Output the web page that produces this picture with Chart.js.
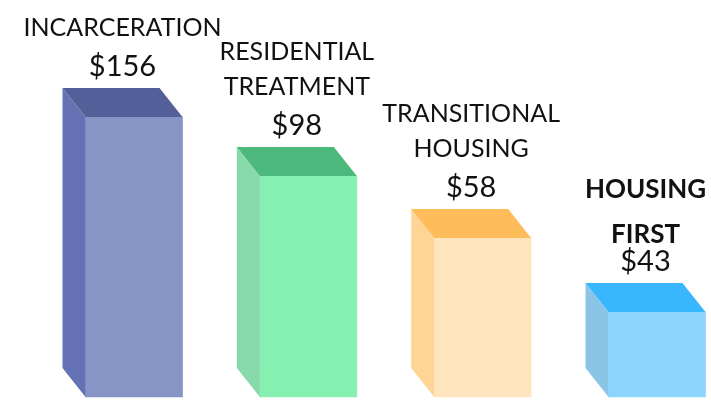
<!DOCTYPE html>
<html>
<head>
<meta charset="utf-8">
<script src="https://cdn.jsdelivr.net/npm/chart.js@4.4.1/dist/chart.umd.min.js"></script>
<style>
  html, body { margin: 0; padding: 0; background: #fff; }
  #chartBox { width: 711px; height: 402px; }
</style>
</head>
<body>
<div id="chartBox"><canvas id="barChartCanvas"></canvas></div>
<script>
// categories, one or two lines each
const categories = [["INCARCERATION"], ["RESIDENTIAL", "TREATMENT"], ["TRANSITIONAL", "HOUSING"], ["HOUSING", "FIRST"]];
// the dollar figures printed over each bar
const costs = [156, 98, 58, 43];
// bar heights as drawn in the picture (relative units, not to scale with the costs)
const barHeights = [280, 221, 159, 85];

const frontColors = ["#8794C6", "#86EFB2", "#FFE5BD", "#8DD5FD"];
const topColors = ["#525F98", "#4DB87B", "#FFBC5A", "#38B6FE"];
const sideColors = ["#6472B4", "#86D9A9", "#FFD596", "#8BC5E6"];

const DX = 23, DY = 29;

const boxPlugin = {
  id: "box3d",
  afterDatasetsDraw(chart) {
    const ctx = chart.ctx;
    const bars = chart.getDatasetMeta(0).data;
    bars.forEach((bar, i) => {
      const { x, y, base, width } = bar.getProps(["x", "y", "base", "width"], true);
      const l = x - width / 2, r = x + width / 2;
      ctx.save();
      // side face
      ctx.fillStyle = sideColors[i];
      ctx.beginPath();
      ctx.moveTo(l, y);
      ctx.lineTo(l - DX, y - DY);
      ctx.lineTo(l - DX, base - DY);
      ctx.lineTo(l, base);
      ctx.closePath();
      ctx.fill();
      // top face
      ctx.fillStyle = topColors[i];
      ctx.beginPath();
      ctx.moveTo(l, y);
      ctx.lineTo(r, y);
      ctx.lineTo(r - DX, y - DY);
      ctx.lineTo(l - DX, y - DY);
      ctx.closePath();
      ctx.fill();

      // labels
      const cx = x - DX / 2;
      const last = i === bars.length - 1;
      ctx.fillStyle = "#111";
      ctx.textAlign = "center";
      ctx.textBaseline = "alphabetic";
      const priceY = y - DY - 12;
      ctx.font = "29px Lato";
      ctx.fillText("$" + costs[i], cx, priceY);
      ctx.font = last ? "bold 26px Lato" : "25px Lato";
      const lines = categories[i];
      const gap = last ? 28 : 40, lineH = last ? 45 : 35;
      lines.forEach((t, k) => {
        ctx.fillText(t, cx, priceY - gap - (lines.length - 1 - k) * lineH);
      });
      ctx.restore();
    });
  }
};

new Chart(document.getElementById("barChartCanvas"), {
  type: "bar",
  data: {
    labels: categories.map((c) => c.join(" ")),
    datasets: [{
      data: barHeights,
      backgroundColor: frontColors,
      borderWidth: 0,
      barThickness: 97,
      clip: false
    }]
  },
  options: {
    responsive: true,
    maintainAspectRatio: false,
    animation: false,
    layout: { padding: { left: 134, right: 54, top: 97, bottom: 5 } },
    plugins: { legend: { display: false }, tooltip: { enabled: false } },
    scales: {
      x: { display: false, offset: false, grid: { display: false } },
      y: { display: false, min: 0, max: 300 }
    }
  },
  plugins: [boxPlugin]
});
</script>
</body>
</html>
